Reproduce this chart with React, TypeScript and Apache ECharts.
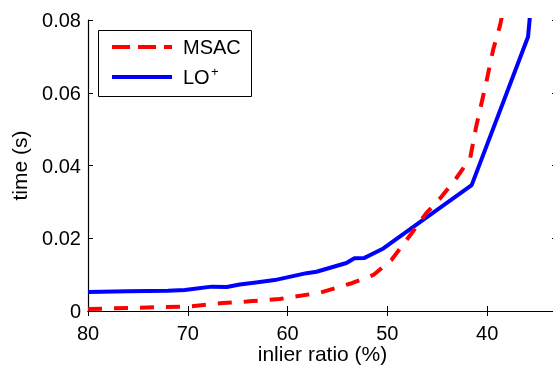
import React, { useEffect, useRef } from "react";
import * as echarts from "echarts";

const xTicks = [40, 50, 60, 70, 80];
const msacX = [80, 75, 70, 66.5, 64.1, 60.8, 56.8, 53.5, 51.4, 49.6, 47.7, 46.1, 44.7, 43.1, 41.7, 41.1, 40.1, 39.4, 38.7, 38.0];
const msacY = [0.00055, 0.0009, 0.0012, 0.0022, 0.0026, 0.0033, 0.005, 0.0077, 0.0099, 0.014, 0.0209, 0.0269, 0.031, 0.0365, 0.042, 0.0507, 0.0627, 0.0718, 0.0786, 0.088];
const loX = [80, 76, 72, 70.3, 67.6, 66.1, 64.8, 61.3, 58.1, 57.1, 54.1, 53.3, 52.3, 50.4, 46.7, 41.55, 35.9, 35.55];
const loY = [0.0052, 0.0054, 0.0056, 0.0058, 0.0067, 0.0066, 0.0073, 0.0085, 0.0104, 0.0108, 0.0132, 0.0145, 0.0146, 0.0172, 0.0245, 0.0346, 0.0754, 0.086];
const legendNames = ["MSAC", "LO"];

const FONT = "Liberation Sans, Arial, Helvetica, sans-serif";

export default function App() {
  const ref = useRef<HTMLDivElement>(null);
  useEffect(() => {
    if (!ref.current) return;
    const chart = echarts.init(ref.current, null, { renderer: "svg" });
    const axisLine = { show: true, lineStyle: { color: "#000", width: 1.2 } };
    const tick = { show: true, inside: true, length: 5, lineStyle: { color: "#000", width: 1 } };
    chart.setOption({
      animation: false,
      textStyle: { fontFamily: FONT, color: "#000" },
      grid: { left: 88, top: 20, right: -4, bottom: 54, containLabel: false, outerBoundsMode: "none" },
      xAxis: [
        {
          type: "value",
          position: "bottom",
          min: 33,
          max: 80,
          inverse: true,
          axisLine,
          axisTick: { ...tick, customValues: xTicks },
          axisLabel: { customValues: xTicks, fontSize: 20, color: "#000", margin: 12, fontFamily: FONT },
          splitLine: { show: false },
          name: "inlier ratio (%)",
          nameLocation: "middle",
          nameGap: 32,
          nameMoveOverlap: false,
          nameTextStyle: { fontSize: 21, color: "#000", fontFamily: FONT },
        },
        {
          type: "value",
          position: "top",
          min: 33,
          max: 80,
          inverse: true,
          axisLine,
          axisTick: { ...tick, customValues: xTicks },
          axisLabel: { show: false },
          splitLine: { show: false },
        },
      ],
      yAxis: [
        {
          type: "value",
          position: "left",
          min: 0,
          max: 0.08,
          interval: 0.02,
          axisLine,
          axisTick: tick,
          axisLabel: {
            fontSize: 20,
            color: "#000",
            margin: 7,
            fontFamily: FONT,
            formatter: (v: number) => (v === 0 ? "0" : v.toFixed(2)),
          },
          splitLine: { show: false },
          name: "time (s)",
          nameLocation: "middle",
          nameGap: 58,
          nameMoveOverlap: false,
          nameTextStyle: { fontSize: 21, color: "#000", fontFamily: FONT },
        },
        {
          type: "value",
          position: "right",
          min: 0,
          max: 0.08,
          interval: 0.02,
          axisLine,
          axisTick: tick,
          axisLabel: { show: false },
          splitLine: { show: false },
        },
      ],
      graphic: [
        {
          type: "group",
          left: 98,
          top: 30,
          z: 100,
          children: [
            { type: "rect", shape: { x: 0.5, y: 0.5, width: 153, height: 66 }, style: { fill: "#fff", stroke: "#000", lineWidth: 1 } },
            { type: "line", shape: { x1: 14, y1: 17, x2: 74, y2: 17 }, style: { stroke: "#ff0000", lineWidth: 4, lineDash: [18, 8] } },
            { type: "line", shape: { x1: 14, y1: 47, x2: 74, y2: 47 }, style: { stroke: "#0000ff", lineWidth: 4 } },
            { type: "text", x: 85, y: 17, style: { text: legendNames[0], fontSize: 20, fontFamily: FONT, fill: "#000", verticalAlign: "middle", align: "left" } },
            { type: "text", x: 85, y: 47, style: { text: legendNames[1], fontSize: 20, fontFamily: FONT, fill: "#000", verticalAlign: "middle", align: "left" } },
            { type: "text", x: 113, y: 41, style: { text: "+", fontSize: 13, fontFamily: FONT, fill: "#000", verticalAlign: "middle", align: "left" } },
          ],
        },
      ],
      series: [
        {
          name: "MSAC",
          type: "line",
          xAxisIndex: 0,
          yAxisIndex: 0,
          data: msacX.map((x, i) => [x, msacY[i]]),
          symbol: "none",
          clip: true,
          lineStyle: { color: "#ff0000", width: 4, type: [14, 12] },
          itemStyle: { color: "#ff0000" },
          z: 3,
        },
        {
          name: "LO+",
          type: "line",
          xAxisIndex: 0,
          yAxisIndex: 0,
          data: loX.map((x, i) => [x, loY[i]]),
          symbol: "none",
          clip: true,
          lineStyle: { color: "#0000ff", width: 4, type: "solid" },
          itemStyle: { color: "#0000ff" },
          z: 2,
        },
      ],
    });
    return () => chart.dispose();
  }, []);
  return <div ref={ref} style={{ position: "fixed", left: 0, top: 0, width: 553, height: 365 }} />;
}
